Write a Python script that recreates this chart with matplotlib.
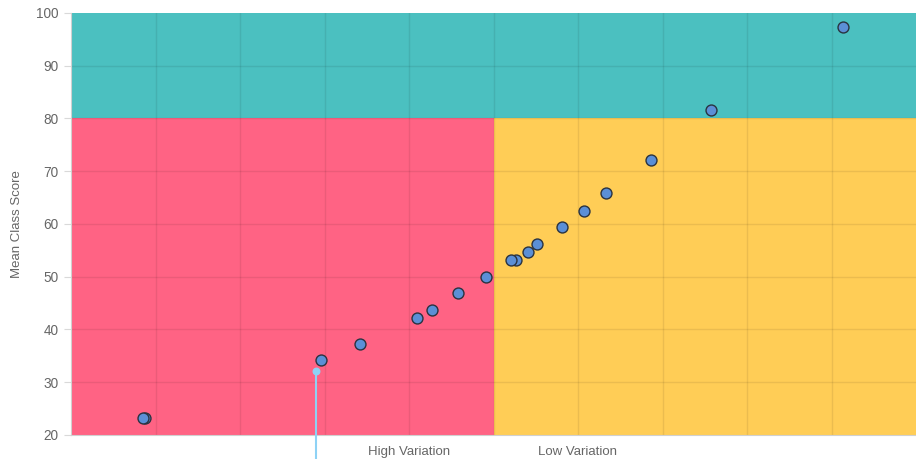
import matplotlib.pyplot as plt

# scatter data (x is an arbitrary variation index, y mean class score)
variation = [0.88, 0.85, 2.96, 3.42, 4.09, 4.27, 4.58, 4.91, 5.27, 5.21,
             5.41, 5.52, 5.81, 6.07, 6.33, 6.86, 7.57, 9.14]
mean_score = [23.2, 23.2, 34.2, 37.3, 42.2, 43.7, 46.9, 50.0, 53.1, 53.1,
              54.6, 56.3, 59.5, 62.5, 65.9, 72.1, 81.6, 97.3]

# background zones
x_min, x_split, x_max = 0, 5, 10
y_min, y_split, y_max = 20, 80, 100
zone_colors = {"high": "#FF6384", "low": "#FFCD56", "top": "#4BC0C0"}

x_labels = ["High Variation", "Low Variation"]
x_label_pos = [4, 6]

# hover marker
marker_x, marker_y = 2.9, 32.1

plt.rcParams["font.family"] = ["Liberation Sans", "DejaVu Sans"]

fig = plt.figure(figsize=(9.16, 4.59), dpi=100)
ax = fig.add_axes([71 / 916, 24 / 459, 845 / 916, 422 / 459])

ax.fill_between([x_min, x_split], y_min, y_split, color=zone_colors["high"], lw=0, zorder=0)
ax.fill_between([x_split, x_max], y_min, y_split, color=zone_colors["low"], lw=0, zorder=0)
ax.fill_between([x_min, x_max], y_split, y_max, color=zone_colors["top"], lw=0, zorder=0)

ax.scatter(variation, mean_score, s=62, color="#5B8FD6", edgecolor="#2a3340",
           linewidth=1.0, zorder=4)

ax.set_xlim(x_min, x_max)
ax.set_ylim(y_min, y_max)

# grid lines at every unit on x, every 10 on y
for gx in range(x_min + 1, x_max):
    ax.axvline(gx, color="black", alpha=0.08, lw=1, zorder=1)
ax.set_yticks(range(y_min, y_max + 1, 10))
for gy in range(y_min + 10, y_max, 10):
    ax.axhline(gy, color="black", alpha=0.08, lw=1, zorder=1)

ax.set_xticks(x_label_pos)
ax.set_xticklabels(x_labels)
ax.tick_params(axis="x", length=0, pad=8, labelsize=9.5, labelcolor="#666666")
ax.tick_params(axis="y", length=5, color=(0.85, 0.85, 0.85), pad=4, labelsize=9.8, labelcolor="#666666")
ax.set_ylabel("Mean Class Score", fontsize=9.5, color="#666666", labelpad=9)

for side in ["top", "right"]:
    ax.spines[side].set_visible(False)
for side in ["left", "bottom"]:
    ax.spines[side].set_color("#d0d0d0")

# hover indicator line down to the bottom of the figure
ax.plot([marker_x, marker_x], [marker_y, y_min - 5], color="#8ED2F5", lw=1.5,
        clip_on=False, zorder=5)
ax.scatter([marker_x], [marker_y], s=22, color="#8ED2F5", zorder=6)

plt.savefig("out.png", dpi=100)
